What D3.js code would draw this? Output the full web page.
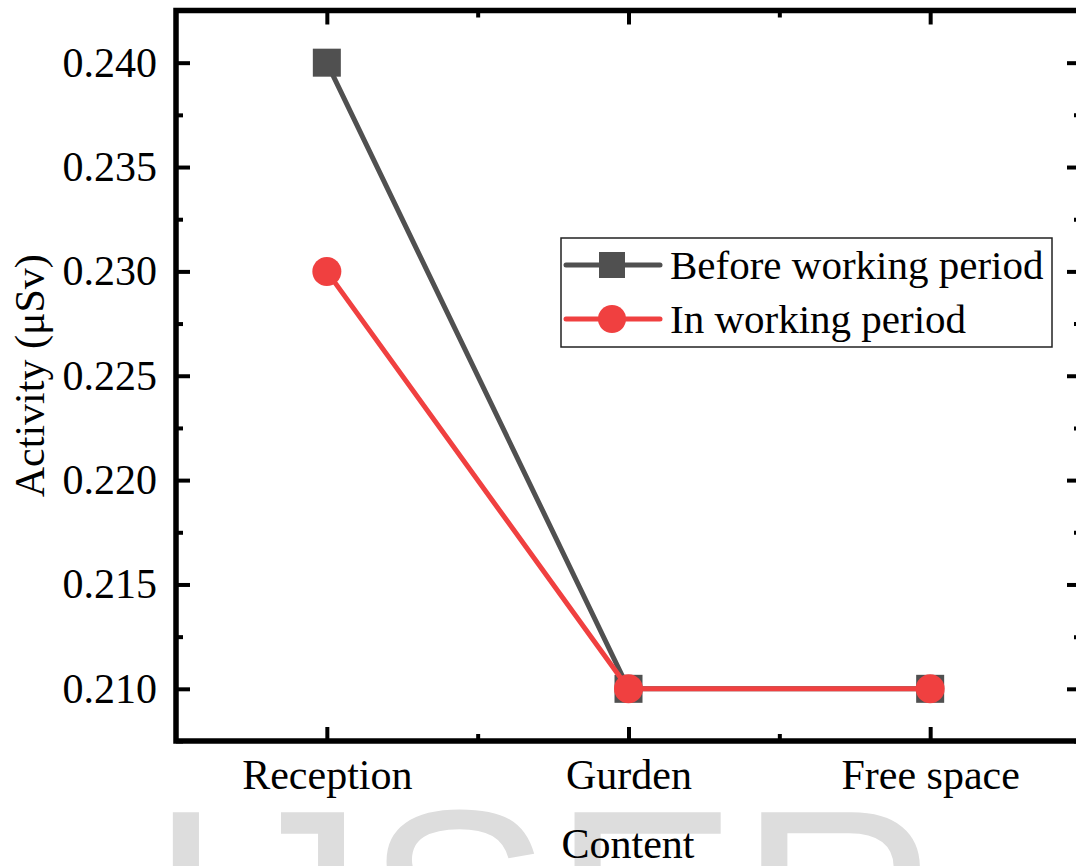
<!DOCTYPE html>
<html>
<head>
<meta charset="utf-8">
<script src="https://cdn.jsdelivr.net/npm/d3@7"></script>
<style>
  html, body { margin: 0; padding: 0; background: #fff; }
  svg { display: block; }
</style>
</head>
<body>
<div id="chart"></div>
<script>
// chart data
const categories = ['Reception', 'Gurden', 'Free space']
const beforeValues = [0.240, 0.210, 0.210]
const inValues = [0.230, 0.210, 0.210]
const seriesNames = ['Before working period', 'In working period']
const yMajorTicks = [0.210, 0.215, 0.220, 0.225, 0.230, 0.235, 0.240]
const yMinorTicks = [0.2075, 0.2125, 0.2175, 0.2225, 0.2275, 0.2325, 0.2375, 0.2425]

const width = 1076
const height = 866
const font = '"Liberation Serif", "Times New Roman", serif'
const grey = '#505050'
const red = '#f04040'

// plot box
const plotLeft = 176
const plotRight = 1081
const plotTop = 10.5
const plotBottom = 741

const svg = d3.select('#chart').append('svg')
  .attr('width', width)
  .attr('height', height)

// watermark behind the chart
svg.append('text')
  .attr('x', 147)
  .attr('y', 1005)
  .attr('fill', '#dddddd')
  .style('font-family', '"Liberation Sans", Arial, sans-serif')
  .style('font-size', '280px')
  .text('IJSER')

const x = d3.scalePoint().domain(categories).range([plotLeft, plotRight]).padding(0.5)
const y = d3.scaleLinear().domain([0.2075, 0.2425]).range([plotBottom, plotTop])

const step = x.step()
const xMinor = [x(categories[0]) + step / 2, x(categories[1]) + step / 2]
const pixel = d3.scaleLinear().domain([0, 1]).range([0, 1])

// axes helper
const styleAxis = g => {
  g.select('.domain').remove()
  g.selectAll('.tick line').attr('stroke', '#000').attr('stroke-width', 4)
  g.selectAll('.tick text')
    .attr('fill', '#000')
    .style('font-family', font)
    .style('font-size', '42px')
}

// left
svg.append('g').attr('transform', `translate(${plotLeft},0)`)
  .call(d3.axisLeft(y).tickValues(yMajorTicks).tickSize(-14).tickPadding(19).tickFormat(d3.format('.3f')))
  .call(styleAxis)
svg.append('g').attr('transform', `translate(${plotLeft},0)`)
  .call(d3.axisLeft(y).tickValues(yMinorTicks).tickSize(-7).tickFormat(''))
  .call(styleAxis)

// right (ticks only)
svg.append('g').attr('transform', `translate(${plotRight},0)`)
  .call(d3.axisRight(y).tickValues(yMajorTicks).tickSize(-14).tickFormat(''))
  .call(styleAxis)
svg.append('g').attr('transform', `translate(${plotRight},0)`)
  .call(d3.axisRight(y).tickValues(yMinorTicks).tickSize(-7).tickFormat(''))
  .call(styleAxis)

// bottom
svg.append('g').attr('transform', `translate(0,${plotBottom})`)
  .call(d3.axisBottom(x).tickSize(-14).tickPadding(18))
  .call(styleAxis)
svg.append('g').attr('transform', `translate(0,${plotBottom})`)
  .call(d3.axisBottom(pixel).tickValues(xMinor).tickSize(-7).tickFormat(''))
  .call(styleAxis)

// top (ticks only)
svg.append('g').attr('transform', `translate(0,${plotTop})`)
  .call(d3.axisTop(x).tickSize(-14).tickFormat(''))
  .call(styleAxis)
svg.append('g').attr('transform', `translate(0,${plotTop})`)
  .call(d3.axisTop(pixel).tickValues(xMinor).tickSize(-7).tickFormat(''))
  .call(styleAxis)

// frame
svg.append('rect')
  .attr('x', plotLeft)
  .attr('y', plotTop)
  .attr('width', plotRight - plotLeft)
  .attr('height', plotBottom - plotTop)
  .attr('fill', 'none')
  .attr('stroke', '#000')
  .attr('stroke-width', 5.5)

// axis titles
svg.append('text')
  .attr('transform', `translate(44,${(plotTop + plotBottom) / 2}) rotate(-90)`)
  .attr('text-anchor', 'middle')
  .style('font-family', font)
  .style('font-size', '42px')
  .text('Activity (μSv)')

svg.append('text')
  .attr('x', (plotLeft + plotRight) / 2 - 0.5)
  .attr('y', 858)
  .attr('text-anchor', 'middle')
  .style('font-family', font)
  .style('font-size', '42px')
  .text('Content')

// series
const line = d3.line().x(d => x(d.cat)).y(d => y(d.v))
const toPoints = arr => arr.map((v, i) => ({ cat: categories[i], v }))

const beforeData = toPoints(beforeValues)
const inData = toPoints(inValues)

svg.append('path')
  .datum(beforeData)
  .attr('d', line)
  .attr('fill', 'none')
  .attr('stroke', grey)
  .attr('stroke-width', 5)

svg.append('g').selectAll('rect')
  .data(beforeData)
  .join('rect')
  .attr('x', d => x(d.cat) - 14)
  .attr('y', d => y(d.v) - 14)
  .attr('width', 28)
  .attr('height', 28)
  .attr('fill', grey)

svg.append('path')
  .datum(inData)
  .attr('d', line)
  .attr('fill', 'none')
  .attr('stroke', red)
  .attr('stroke-width', 5)

svg.append('g').selectAll('circle')
  .data(inData)
  .join('circle')
  .attr('cx', d => x(d.cat))
  .attr('cy', d => y(d.v))
  .attr('r', 14.5)
  .attr('fill', red)

// legend
const legend = svg.append('g')
legend.append('rect')
  .attr('x', 561)
  .attr('y', 238)
  .attr('width', 491)
  .attr('height', 109)
  .attr('fill', '#fff')
  .attr('stroke', '#222')
  .attr('stroke-width', 1.5)

const legendRows = [
  { name: seriesNames[0], color: grey, shape: 'square', cy: 265 },
  { name: seriesNames[1], color: red, shape: 'circle', cy: 319 },
]

legendRows.forEach(r => {
  legend.append('line')
    .attr('x1', 566)
    .attr('x2', 660)
    .attr('y1', r.cy)
    .attr('y2', r.cy)
    .attr('stroke', r.color)
    .attr('stroke-width', 5)
    .attr('stroke-linecap', 'round')
  if (r.shape === 'square') {
    legend.append('rect')
      .attr('x', 599)
      .attr('y', r.cy - 13)
      .attr('width', 26)
      .attr('height', 26)
      .attr('fill', r.color)
  } else {
    legend.append('circle')
      .attr('cx', 612)
      .attr('cy', r.cy)
      .attr('r', 14)
      .attr('fill', r.color)
  }
  legend.append('text')
    .attr('x', 670)
    .attr('y', r.cy)
    .attr('dy', '0.34em')
    .style('font-family', font)
    .style('font-size', '41px')
    .text(r.name)
})
</script>
</body>
</html>
